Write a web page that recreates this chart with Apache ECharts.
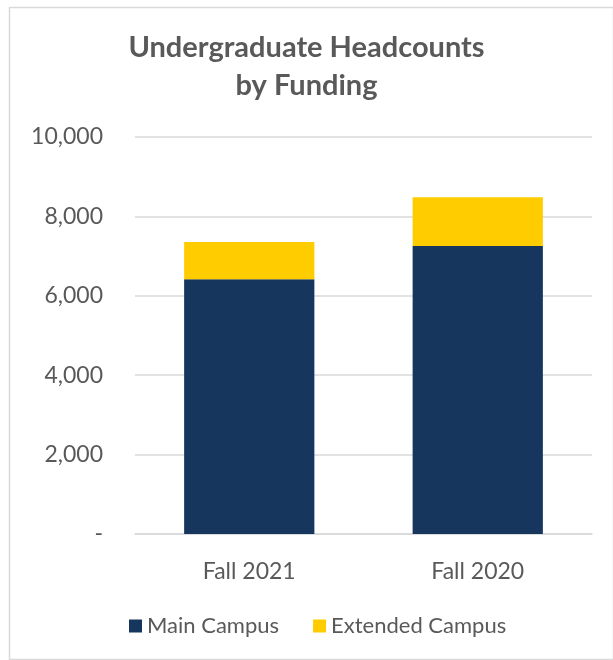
<!DOCTYPE html>
<html><head><meta charset="utf-8">
<script src="https://cdn.jsdelivr.net/npm/echarts@6/dist/echarts.min.js"></script>
<style>html,body{margin:0;padding:0;background:#fff}#c{width:613px;height:660px}</style>
</head><body><div id="c"></div>
<script>
const categories = ["Fall 2021", "Fall 2020"];
const mainCampus = [6415, 7255];
const extendedCampus = [940, 1225];
const yTicks = [0, 2000, 4000, 6000, 8000, 10000];

const chart = echarts.init(document.getElementById('c'));
const font = 'Lato, "Liberation Sans", sans-serif';
chart.setOption({
  backgroundColor: '#fff',
  animation: false,
  graphic: [{
    type: 'rect', left: 7, top: 5,
    shape: { width: 604, height: 652 },
    style: { fill: 'none', stroke: '#d9d9d9', lineWidth: 1.5 }
  }],
  title: {
    text: 'Undergraduate Headcounts\nby Funding',
    left: 'center', top: 24,
    textStyle: { fontFamily: font, fontSize: 29, fontWeight: 'bold', color: '#595959', lineHeight: 38 }
  },
  legend: {
    bottom: 18, left: 124, itemWidth: 13, itemHeight: 13, itemGap: 34,
    icon: 'rect',
    textStyle: { fontFamily: font, fontSize: 22, color: '#595959' },
    data: ['Main Campus', 'Extended Campus']
  },
  grid: { left: 135, right: 21, top: 137, bottom: 126 },
  xAxis: {
    type: 'category', data: categories,
    axisLine: { lineStyle: { color: '#d9d9d9', width: 1.5 } },
    axisTick: { show: false },
    axisLabel: { fontFamily: font, fontSize: 23, color: '#595959', margin: 26 }
  },
  yAxis: {
    type: 'value', min: yTicks[0], max: yTicks[yTicks.length - 1], interval: 2000,
    axisLine: { show: false }, axisTick: { show: false },
    splitLine: { lineStyle: { color: '#d9d9d9', width: 1.5 } },
    axisLabel: {
      fontFamily: font, fontSize: 23, color: '#595959', margin: 32,
      formatter: v => v === 0 ? '-' : v.toLocaleString('en-US')
    }
  },
  series: [
    { name: 'Main Campus', type: 'bar', stack: 'a', data: mainCampus, barWidth: '57%',
      itemStyle: { color: '#17365d' } },
    { name: 'Extended Campus', type: 'bar', stack: 'a', data: extendedCampus, barWidth: '57%',
      itemStyle: { color: '#ffcc00' } }
  ]
});
</script></body></html>
